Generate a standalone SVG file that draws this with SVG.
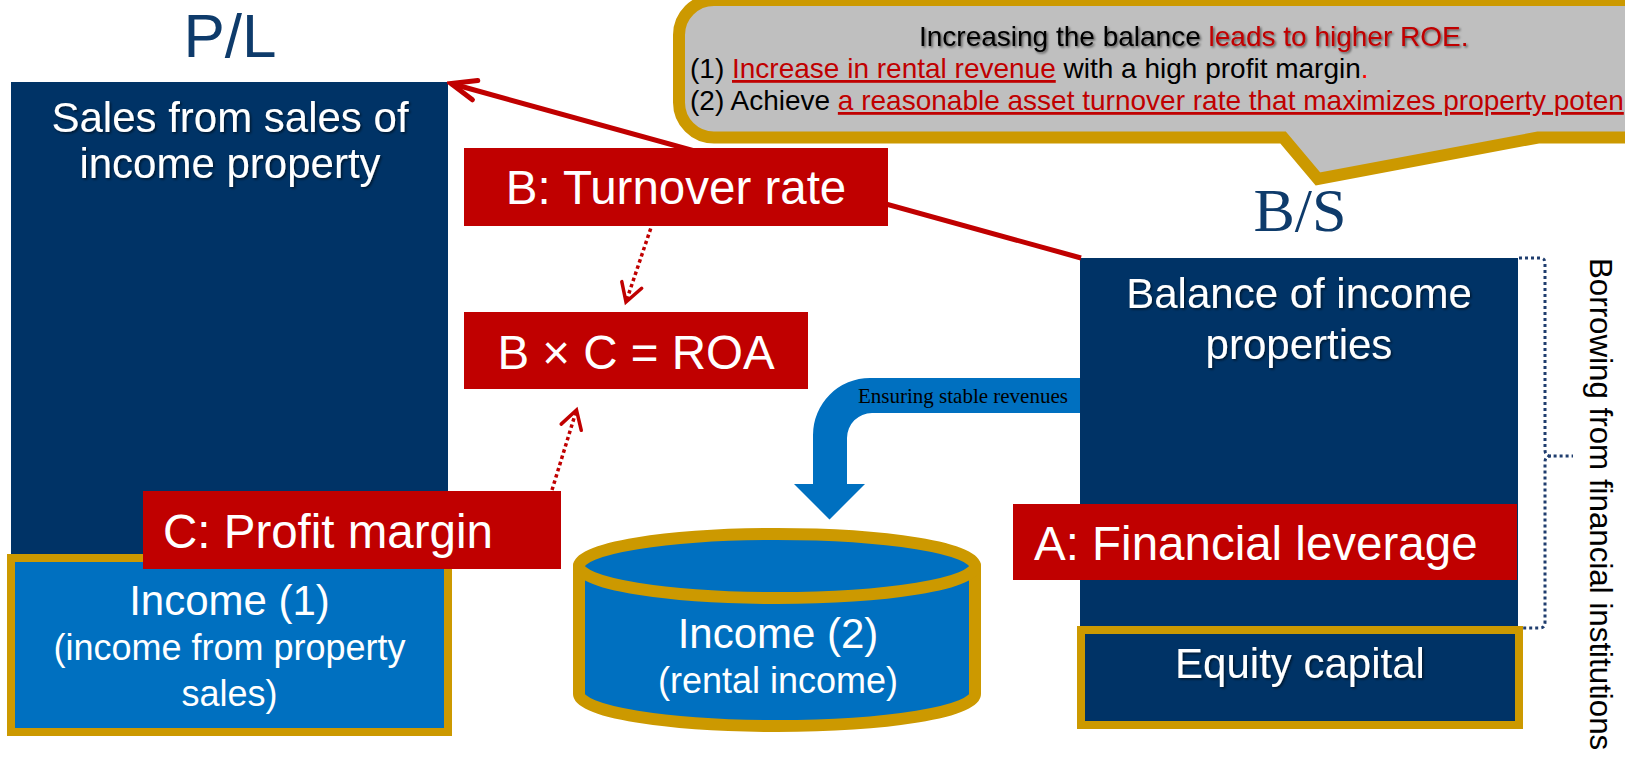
<svg xmlns="http://www.w3.org/2000/svg" width="1625" height="759" viewBox="0 0 1625 759">
<style>
  text { font-family: "Liberation Sans", Arial, sans-serif; }
  .navy { fill: #003366; }
  .red { fill: #C00000; }
  .wt { fill: #FFFFFF; }
  .big { font-size: 42px; }
  .lbl { font-size: 47.5px; fill: #FFFFFF; }
  .title { fill: #0E3B6B; }
  .ct { font-size: 28px; fill: #000000; }
  .cr { fill: #C00000; }
  .dot { fill: none; stroke: #C00000; stroke-width: 3.5; stroke-dasharray: 3.5 3; }
</style>
<defs>
  <filter id="ts" x="-5%" y="-25%" width="112%" height="150%">
    <feDropShadow dx="1.5" dy="1.5" stdDeviation="1" flood-color="#000000" flood-opacity="0.55"/>
  </filter>
  <marker id="arrSolid" markerUnits="userSpaceOnUse" viewBox="-32 -16 36 32" markerWidth="36" markerHeight="32" refX="0" refY="0" orient="auto">
    <path d="M -25,-10 L 0,0 L -25,10" fill="none" stroke="#C00000" stroke-width="5" stroke-linecap="round"/>
  </marker>
  <marker id="arrDot" markerUnits="userSpaceOnUse" viewBox="-24 -14 28 28" markerWidth="28" markerHeight="28" refX="0" refY="0" orient="auto">
    <path d="M -18,-10.5 L 0,0 L -18,10.5" fill="none" stroke="#C00000" stroke-width="3.5" stroke-linecap="round"/>
  </marker>
</defs>

<rect x="0" y="0" width="1625" height="759" fill="#FFFFFF"/>

<g id="title-pl"><text x="230" y="57" text-anchor="middle" font-size="62" class="title">P/L</text></g>
<g id="title-bs"><text x="1300" y="231" text-anchor="middle" font-size="62" class="title" style="font-family:'Liberation Serif','Times New Roman',serif">B/S</text></g>

<g id="pl-sales">
  <rect x="11" y="82" width="437" height="480" class="navy"/>
  <g filter="url(#ts)">
    <text x="230" y="132" text-anchor="middle" class="big wt">Sales from sales of</text>
    <text x="230" y="178" text-anchor="middle" class="big wt">income property</text>
  </g>
</g>

<g id="bs-balance">
  <rect x="1080" y="258" width="438" height="372" class="navy"/>
  <g filter="url(#ts)">
    <text x="1299" y="308" text-anchor="middle" class="big wt">Balance of income</text>
    <text x="1299" y="359" text-anchor="middle" class="big wt">properties</text>
  </g>
</g>

<g id="callout">
  <path d="M 714,0 H 1640 V 137.5 H 1538 L 1318,179 L 1283,137.5 H 714 A 35 35 0 0 1 679,102.5 V 35 A 35 35 0 0 1 714,0 Z" fill="#BFBFBF" stroke="#CC9900" stroke-width="12" stroke-linejoin="miter"/>
  <text x="919" y="46" class="ct" filter="url(#ts)">Increasing the balance <tspan class="cr">leads to higher ROE.</tspan></text>
  <text x="690" y="78" class="ct">(1) <tspan class="cr" text-decoration="underline">Increase in rental revenue</tspan> with a high profit margin<tspan fill="#FF0000">.</tspan></text>
  <text x="690" y="110" class="ct">(2) Achieve <tspan class="cr" text-decoration="underline">a reasonable asset turnover rate that maximizes property poten</tspan></text>
</g>

<g id="connectors">
  <path id="c-turnover" d="M 1081,258 L 451,83.5" fill="none" stroke="#C00000" stroke-width="5" marker-end="url(#arrSolid)"/>
  <path id="c-b-roa" d="M 650.7,228.5 L 626,302" class="dot" marker-end="url(#arrDot)"/>
  <path id="c-c-roa" d="M 552,490 L 576.5,410" class="dot" marker-end="url(#arrDot)"/>
  <g id="c-stable">
    <path d="M 1080,378 H 870 A 57 57 0 0 0 813,435 V 484 H 794 L 829.5,519.5 L 865,484 H 847 V 438 A 25 25 0 0 1 872,413 H 1080 Z" fill="#0070C0"/>
    <text x="858" y="403" font-size="21" fill="#000000" style="font-family:'Liberation Serif','Times New Roman',serif">Ensuring stable revenues</text>
  </g>
  <path id="c-borrow" d="M 1519,258 L 1540,258 Q 1545,258 1545,263 L 1545,450 Q 1545,456 1551,456 L 1573,456 M 1551,456 Q 1545,456 1545,462 L 1545,622 Q 1545,628 1540,628 L 1519,628" fill="none" stroke="#1F3D6E" stroke-width="3" stroke-dasharray="3 3"/>
</g>

<g id="b-turnover">
  <rect x="464" y="148" width="424" height="78" class="red"/>
  <text x="676" y="204" text-anchor="middle" class="lbl">B: Turnover rate</text>
</g>

<g id="roa">
  <rect x="464" y="312" width="344" height="77" class="red"/>
  <text x="636" y="369" text-anchor="middle" class="lbl">B × C = ROA</text>
</g>

<g id="income1">
  <rect x="11" y="558" width="437" height="174" fill="#0070C0" stroke="#CC9900" stroke-width="8"/>
  <text x="229.5" y="615" text-anchor="middle" font-size="42" class="wt">Income (1)</text>
  <text x="229.5" y="660" text-anchor="middle" font-size="36" class="wt">(income from property</text>
  <text x="229.5" y="706" text-anchor="middle" font-size="36" class="wt">sales)</text>
</g>

<g id="c-profit">
  <rect x="143" y="491" width="418" height="78" class="red"/>
  <text x="163" y="548" class="lbl">C: Profit margin</text>
</g>

<g id="income2">
  <path d="M 579,566 L 579,694 A 198 32 0 0 0 975,694 L 975,566 Z" fill="#0070C0" stroke="#CC9900" stroke-width="12" stroke-linejoin="round"/>
  <ellipse cx="777" cy="566" rx="198" ry="32" fill="#0070C0" stroke="#CC9900" stroke-width="12"/>
  <text x="778" y="648" text-anchor="middle" font-size="42" class="wt">Income (2)</text>
  <text x="778" y="693" text-anchor="middle" font-size="36" class="wt">(rental income)</text>
</g>

<g id="a-leverage">
  <rect x="1013" y="504" width="504" height="76" class="red"/>
  <text x="1034" y="560" class="lbl">A: Financial leverage</text>
</g>

<g id="equity">
  <rect x="1081" y="630" width="438" height="95" class="navy" stroke="#CC9900" stroke-width="8"/>
  <text x="1300" y="678" text-anchor="middle" class="big wt" filter="url(#ts)">Equity capital</text>
</g>

<g id="borrowing-label">
  <text transform="translate(1590,258) rotate(90)" font-size="31.3" fill="#000000">Borrowing from financial institutions</text>
</g>
</svg>
